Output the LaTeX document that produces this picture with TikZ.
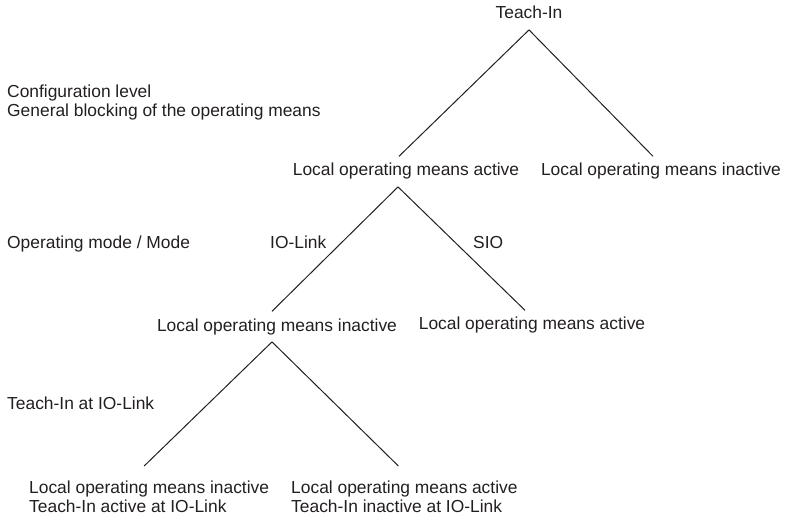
\documentclass[tikz,border=0pt]{standalone}
\usepackage{fontspec}
\setmainfont{Liberation Sans}
\definecolor{ink}{RGB}{35,31,32}
\begin{document}
\begin{tikzpicture}[x=1pt,y=-1pt,
  every node/.style={font=\fontsize{17.4}{19}\selectfont, text=ink},
  st/.style={anchor=base, inner sep=7pt, text height=12.5pt, text depth=3.7pt},
  leaf/.style={anchor=north west, inner sep=0pt, align=left},
  lbl/.style={anchor=base west, inner sep=0pt},
  br/.style={draw=ink, line width=1pt}]
\useasboundingbox (0,0) rectangle (792,518);
\node[leaf] (conf) at (7,84.3){Configuration level\\General blocking of the operating means};
\node[lbl] (mode) at (7,249){Operating mode / Mode};
\node[lbl] (tia) at (7,409){Teach-In at IO-Link};
\node[st] (n0) at (529,19){Teach-In};
\node[st] (n1) at (406,176){Local operating means active};
\node[st] (n2) at (661,176){Local operating means inactive};
\draw[br](n0.south) -- ([xshift=-7pt]n1.north);
\draw[br](n0.south) -- ([xshift=-8pt]n2.north);
\node[st] (n3) at (277,331){Local operating means inactive};
\node[st] (n4) at (532,330){Local operating means active};
\draw[br]([xshift=-8pt]n1.south) -- ([xshift=-5pt]n3.north);
\draw[br]([xshift=-8pt]n1.south) -- ([xshift=-7pt]n4.north);
\node[lbl] (iol) at (270,249){IO-Link};
\node[lbl] (sio) at (473,249){SIO};
\node[leaf] (n5) at (29,480.5){Local operating means inactive\\Teach-In active at IO-Link};
\node[leaf] (n6) at (291,480.5){Local operating means active\\Teach-In inactive at IO-Link};
\draw[br]([xshift=-5pt]n3.south) -- ([xshift=-5pt,yshift=14.5pt]n5.north);
\draw[br]([xshift=-5pt]n3.south) -- ([xshift=-6pt,yshift=14.5pt]n6.north);
\end{tikzpicture}
\end{document}
